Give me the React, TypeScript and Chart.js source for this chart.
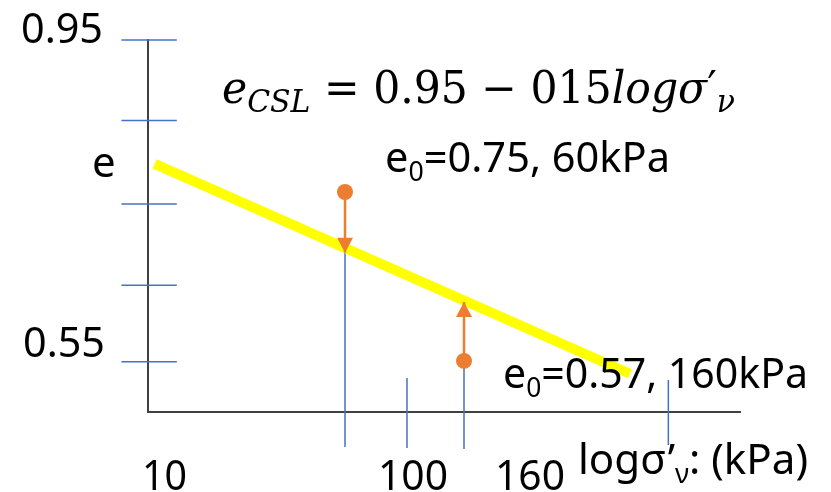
import React, { useEffect, useRef } from "react";
import { Chart, registerables } from "chart.js";

Chart.register(...registerables);

// ---- data (σ'v in kPa on a log axis, void ratio e on a linear axis) ----
const sigmaAxisRange = [11.83, 1556];
const eAxisRange = [0.4875, 0.95];
const eTickValues = [0.95, 0.85, 0.746, 0.645, 0.55];
const eTickSpanSigma = [9.5, 15];
const cslSigma = [12.5, 628];
const cslE = [0.796, 0.535];
const sampleSigma = [60, 160];
const sampleE0 = [0.761, 0.551];
const arrowTipE = [0.6855, 0.6243];
const guideSigma = [60, 100, 160, 862];
const guideTopE = [0.6855, 0.5297, 0.6243, 0.5272];
const guideBottomE = [0.4439, 0.4427, 0.4415, 0.4465];
const eLabels = ["0.95", "0.55"];
const sigmaLabels = ["10", "100", "160"];
const pointLabels = ["0.75, 60kPa", "0.57, 160kPa"];

const BLUE = "#4472C4";
const ORANGE = "#ED7D31";
const YELLOW = "#FFFF00";
const AXIS = "#404040";
const SANS = '"Noto Sans", sans-serif';
const SERIF = '"DejaVu Serif", serif';

type Seg = { t: string; font: string; dy?: number };

function rich(ctx: CanvasRenderingContext2D, segs: Seg[], x: number, baseline: number, width?: number) {
  let total = 0;
  for (const s of segs) {
    ctx.font = s.font;
    total += ctx.measureText(s.t).width;
  }
  const k = width ? width / total : 1;
  ctx.save();
  ctx.translate(x, baseline);
  ctx.scale(k, 1);
  let cx = 0;
  for (const s of segs) {
    ctx.font = s.font;
    ctx.fillText(s.t, cx, s.dy || 0);
    cx += ctx.measureText(s.t).width;
  }
  ctx.restore();
}

const annotationPlugin = {
  id: "annotations",
  afterDatasetsDraw(chart: any) {
    const { ctx, scales } = chart;
    const xs = scales.x;
    const ys = scales.y;
    ctx.save();
    ctx.fillStyle = ORANGE;
    sampleSigma.forEach((s, i) => {
      const px = xs.getPixelForValue(s);
      const tip = ys.getPixelForValue(arrowTipE[i]);
      const dir = arrowTipE[i] < sampleE0[i] ? 1 : -1;
      ctx.beginPath();
      ctx.moveTo(px, tip);
      ctx.lineTo(px - 8, tip - dir * 15);
      ctx.lineTo(px + 8, tip - dir * 15);
      ctx.closePath();
      ctx.fill();
    });
    ctx.restore();
  },
  afterDraw(chart: any) {
    const { ctx } = chart;
    ctx.save();
    ctx.fillStyle = "#000";
    ctx.textAlign = "left";
    ctx.textBaseline = "alphabetic";
    const main = `42px ${SANS}`;
    const sub = `27px ${SANS}`;
    // axis value labels
    rich(ctx, [{ t: eLabels[0], font: main }], 21, 43, 82);
    rich(ctx, [{ t: eLabels[1], font: main }], 23, 357, 82);
    rich(ctx, [{ t: "e", font: main }], 92, 177);
    rich(ctx, [{ t: sigmaLabels[0], font: main }], 142, 490, 45);
    rich(ctx, [{ t: sigmaLabels[1], font: main }], 378, 490, 70);
    rich(ctx, [{ t: sigmaLabels[2], font: main }], 495, 490, 70);
    rich(
      ctx,
      [
        { t: "logσ’", font: main },
        { t: "ν", font: sub, dy: 9 },
        { t: ": (kPa)", font: main },
      ],
      578,
      474,
      230
    );
    // point labels
    rich(
      ctx,
      [
        { t: "e", font: main },
        { t: "0", font: sub, dy: 9 },
        { t: "=" + pointLabels[0], font: main },
      ],
      385,
      172,
      285
    );
    rich(
      ctx,
      [
        { t: "e", font: main },
        { t: "0", font: sub, dy: 9 },
        { t: "=" + pointLabels[1], font: main },
      ],
      503,
      388,
      305
    );
    // equation
    const ital = `italic 44px ${SERIF}`;
    const up = `44px ${SERIF}`;
    const subIt = `italic 31px ${SERIF}`;
    rich(
      ctx,
      [
        { t: "e", font: ital },
        { t: "CSL", font: subIt, dy: 9 },
        { t: " = 0.95 − 015", font: up },
        { t: "logσ", font: ital },
        { t: "′", font: up },
        { t: "ν", font: subIt, dy: 9 },
      ],
      222,
      103,
      513
    );
    ctx.restore();
  },
};

export default function App() {
  const ref = useRef<HTMLCanvasElement | null>(null);
  useEffect(() => {
    if (!ref.current) return;
    const line = (pts: { x: number; y: number }[], color: string, width: number, order: number) => ({
      data: pts,
      borderColor: color,
      borderWidth: width,
      pointRadius: 0,
      showLine: true,
      fill: false,
      clip: false as const,
      order,
    });
    const datasets: any[] = [];
    eTickValues.forEach((e) =>
      datasets.push(
        line(
          [
            { x: eTickSpanSigma[0], y: e },
            { x: eTickSpanSigma[1], y: e },
          ],
          BLUE,
          1.5,
          5
        )
      )
    );
    guideSigma.forEach((g, i) =>
      datasets.push(
        line(
          [
            { x: g, y: guideTopE[i] },
            { x: g, y: guideBottomE[i] },
          ],
          BLUE,
          1.5,
          4
        )
      )
    );
    datasets.push(
      line(
        cslSigma.map((s, i) => ({ x: s, y: cslE[i] })),
        YELLOW,
        10,
        3
      )
    );
    sampleSigma.forEach((s, i) =>
      datasets.push(
        line(
          [
            { x: s, y: sampleE0[i] },
            { x: s, y: arrowTipE[i] },
          ],
          ORANGE,
          2.5,
          2
        )
      )
    );
    datasets.push({
      data: sampleSigma.map((s, i) => ({ x: s, y: sampleE0[i] })),
      showLine: false,
      pointRadius: 8,
      pointBackgroundColor: ORANGE,
      pointBorderWidth: 0,
      clip: false,
      order: 1,
    });

    const chart = new Chart(ref.current, {
      type: "line",
      data: { datasets },
      options: {
        animation: false,
        responsive: false,
        devicePixelRatio: 1,
        events: [],
        layout: { padding: { left: 148, top: 40, right: 91, bottom: 80 } },
        plugins: { legend: { display: false }, tooltip: { enabled: false } },
        scales: {
          x: {
            type: "logarithmic",
            min: sigmaAxisRange[0],
            max: sigmaAxisRange[1],
            grid: { display: false, drawTicks: false },
            ticks: { display: false },
            border: { display: true, color: AXIS, width: 2 },
          },
          y: {
            type: "linear",
            min: eAxisRange[0],
            max: eAxisRange[1],
            grid: { display: false, drawTicks: false },
            ticks: { display: false },
            border: { display: true, color: AXIS, width: 2 },
          },
        },
      },
      plugins: [annotationPlugin],
    });
    return () => chart.destroy();
  }, []);
  return (
    <div style={{ position: "absolute", left: 0, top: 0, width: 831, height: 492, background: "#fff" }}>
      <canvas ref={ref} width={831} height={492} style={{ display: "block" }} />
    </div>
  );
}
